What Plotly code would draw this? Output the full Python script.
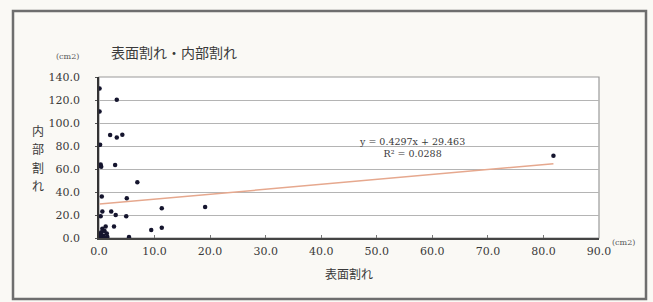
import plotly.graph_objects as go

# Data (surface cracks vs. internal cracks, cm2)
surface_x = [0.1, 0.1, 0.2, 0.3, 0.4, 0.5, 0.3, 0.6, 3.2, 2.0, 3.2, 4.2, 2.9, 6.9,
             5.0, 11.3, 19.1, 2.2, 3.0, 4.9, 2.7, 9.4, 11.3, 5.4, 81.8,
             0.1, 0.2, 0.4, 0.6, 0.8, 1.0, 1.2, 1.4, 1.5, 0.9, 0.3]
internal_y = [130.0, 110.0, 81.0, 64.0, 62.0, 36.0, 19.0, 23.0, 120.3, 89.5, 87.5, 89.8, 63.5, 48.5,
              34.5, 25.8, 27.0, 23.0, 20.0, 19.0, 10.0, 7.0, 9.0, 0.8, 71.5,
              1.0, 3.0, 5.0, 8.0, 2.0, 6.0, 10.0, 4.0, 1.0, 0.5, 0.2]

trend_slope = 0.4297
trend_intercept = 29.463
trend_label = "y = 0.4297x + 29.463<br>R² = 0.0288"

title_text = "表面割れ・内部割れ"
x_title = "表面割れ"
y_title = "内部割れ"
unit_text = "(cm2)"

x_ticks = [0, 10, 20, 30, 40, 50, 60, 70, 80, 90]
y_ticks = [0, 20, 40, 60, 80, 100, 120, 140]

tx0, tx1 = min(surface_x), max(surface_x)
trend_x = [tx0, tx1]
trend_y = [trend_slope * v + trend_intercept for v in trend_x]

fig = go.Figure()
fig.add_trace(go.Scatter(x=trend_x, y=trend_y, mode="lines",
                         line=dict(color="#e6a88e", width=1.5), hoverinfo="skip"))
fig.add_trace(go.Scatter(x=surface_x, y=internal_y, mode="markers",
                         marker=dict(symbol="circle", size=4.5, color="#15152e")))

serif = "DejaVu Serif, Liberation Serif, serif"
cjk = "Noto Sans CJK JP"

L, R, T, B = 99, 54, 77, 64
W, H = 653, 302
pw, ph = W - L - R, H - T - B

def px2x(px):
    return (px - L) / pw

def py2y(py):
    return (H - B - py) / ph

fig.update_layout(
    width=W, height=H,
    margin=dict(l=L, r=R, t=T, b=B),
    paper_bgcolor="#faf9f5",
    plot_bgcolor="#ffffff",
    showlegend=False,
    xaxis=dict(range=[0, 90], tickvals=x_ticks, tickformat=".1f",
               showgrid=False, zeroline=False,
               showline=True, linecolor="#444444", linewidth=1.5, mirror=False,
               ticks="inside", ticklen=3, tickcolor="#777777",
               tickfont=dict(family=serif, size=11, color="#3a3a3a"),
               ticklabelstandoff=2),
    yaxis=dict(range=[0, 140], tickvals=y_ticks, tickformat=".1f",
               showgrid=True, gridcolor="#b4b4b4", gridwidth=1.2, zeroline=False,
               showline=True, linecolor="#333333", linewidth=1.5,
               ticks="outside", ticklen=2, tickcolor="#555555",
               tickfont=dict(family=serif, size=11, color="#3a3a3a"),
               ticklabelstandoff=13),
)

# plot area border (top/right)
fig.add_shape(type="rect", xref="paper", yref="paper", x0=0, y0=0, x1=1, y1=1,
              line=dict(color="#9a9a9a", width=1.2), layer="below")
# outer frame
fig.add_shape(type="rect", xref="paper", yref="paper",
              x0=px2x(13), y0=py2y(299), x1=px2x(646), y1=py2y(11),
              line=dict(color="#6e6e6e", width=2.5))

fig.add_annotation(text=title_text, xref="paper", yref="paper",
                   x=px2x(109), y=py2y(52), xanchor="left", yanchor="middle",
                   showarrow=False, font=dict(family=cjk, size=14, color="#3a3a3a"))
fig.add_annotation(text=x_title, xref="paper", yref="paper",
                   x=0.5, y=py2y(273), xanchor="center", yanchor="middle",
                   showarrow=False, font=dict(family=cjk, size=12, color="#3a3a3a"))
for i, ch in enumerate(y_title):
    fig.add_annotation(text=ch, xref="paper", yref="paper",
                       x=px2x(38), y=py2y(130 + 18.5 * i), xanchor="center", yanchor="middle",
                       showarrow=False, borderpad=0,
                       font=dict(family=cjk, size=12, color="#3a3a3a"))
fig.add_annotation(text=unit_text, xref="paper", yref="paper",
                   x=px2x(67), y=py2y(56), xanchor="center", yanchor="middle",
                   showarrow=False, font=dict(family=serif, size=8, color="#555555"))
fig.add_annotation(text=unit_text, xref="paper", yref="paper",
                   x=px2x(623), y=py2y(242), xanchor="center", yanchor="middle",
                   showarrow=False, font=dict(family=serif, size=8, color="#555555"))
fig.add_annotation(text=trend_label, xref="paper", yref="paper",
                   x=px2x(412), y=py2y(147), xanchor="center", yanchor="middle",
                   showarrow=False, align="center",
                   font=dict(family=serif, size=9.5, color="#3a3a3a"))

fig.write_html("out.html", config={"displayModeBar": False},
               post_script="document.body.style.margin='0';document.body.style.padding='0';")
